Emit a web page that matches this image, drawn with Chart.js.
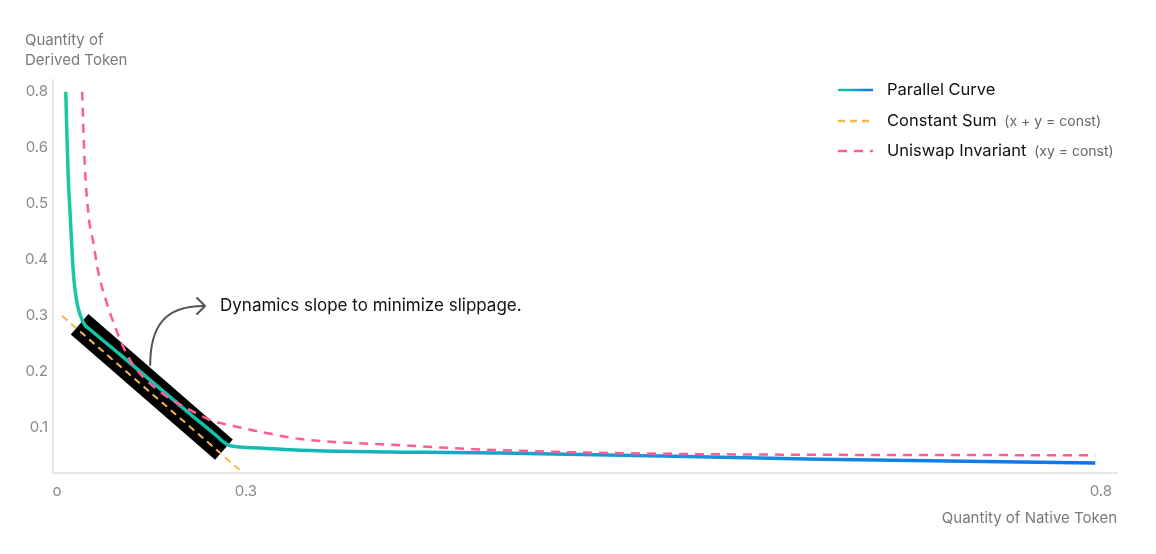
<!DOCTYPE html>
<html>
<head>
<meta charset="utf-8">
<script src="https://cdn.jsdelivr.net/npm/chart.js@4.4.1/dist/chart.umd.min.js"></script>
<style>
  html, body { margin: 0; padding: 0; background: #fff; }
  #wrap { width: 1156px; height: 554px; position: relative; }
</style>
</head>
<body>
<div id="wrap"><canvas id="curves"></canvas></div>
<script>
// axis is schematic: x runs 0..0.3 evenly, then squeezed up to the "0.8" tick
const xTickValues = [0, 0.3, 1.657];
const xTickLabels = ['o', '0.3', '0.8'];
const yTickValues = [0.1, 0.2, 0.3, 0.4, 0.5, 0.6, 0.7];
const yTickLabels = ['0.1', '0.2', '0.3', '0.4', '0.5', '0.6', '0.8'];

const parallelX = [0.014, 0.016, 0.018, 0.021, 0.023, 0.026, 0.031, 0.037, 0.044, 0.052, 0.100, 0.148, 0.211, 0.255, 0.264, 0.275, 0.322, 0.386, 0.703, 1.211, 1.648];
const parallelY = [0.695, 0.609, 0.538, 0.475, 0.430, 0.371, 0.323, 0.296, 0.279, 0.271, 0.226, 0.180, 0.120, 0.079, 0.070, 0.063, 0.059, 0.055, 0.050, 0.039, 0.032];

const uniswapX = [0.040, 0.044, 0.051, 0.057, 0.066, 0.079, 0.092, 0.105, 0.121, 0.142, 0.174, 0.211, 0.243, 0.285, 0.322, 0.386, 0.544, 0.703, 1.021, 1.648];
const uniswapY = [0.695, 0.568, 0.466, 0.430, 0.371, 0.318, 0.276, 0.240, 0.207, 0.180, 0.151, 0.127, 0.109, 0.097, 0.088, 0.075, 0.064, 0.055, 0.048, 0.046];

const constSumX = [0.008, 0.294];
const constSumY = [0.295, 0.016];

const bandX = [0.036, 0.265];
const bandY = [0.280, 0.056];

const arrowFrom = [0.148, 0.207];
const arrowTo = [0.235, 0.3125];
const noteText = 'Dynamics slope to minimize slippage.';

const legendNames = ['Parallel Curve', 'Constant Sum', 'Uniswap Invariant'];
const legendNotes = ['', '(x + y = const)', '(xy = const)'];

const FONT = 'Inter, "DejaVu Sans", sans-serif';
const pts = (xs, ys) => xs.map((x, i) => ({ x: x, y: ys[i] }));

function curveGradient(ctx, x0, x1) {
  const g = ctx.createLinearGradient(x0, 0, x1, 0);
  g.addColorStop(0, '#19c99e');
  g.addColorStop(0.15, '#12c0ac');
  g.addColorStop(0.3, '#15b2bd');
  g.addColorStop(0.5, '#189bd3');
  g.addColorStop(0.75, '#1484e3');
  g.addColorStop(1, '#0f72f0');
  return g;
}

const annotate = {
  id: 'annotate',
  afterDatasetsDraw(chart) {
    const { ctx, scales: { x, y } } = chart;
    const sx = x.getPixelForValue(arrowFrom[0]), sy = y.getPixelForValue(arrowFrom[1]);
    const ex = x.getPixelForValue(arrowTo[0]), ey = y.getPixelForValue(arrowTo[1]);
    ctx.save();
    ctx.strokeStyle = '#555';
    ctx.lineWidth = 2;
    ctx.lineCap = 'round';
    ctx.lineJoin = 'round';
    ctx.beginPath();
    ctx.moveTo(sx, sy);
    ctx.bezierCurveTo(sx, ey + 20, sx + 15, ey, ex - 2, ey);
    ctx.stroke();
    ctx.beginPath();
    ctx.moveTo(ex - 8, ey - 8);
    ctx.lineTo(ex, ey);
    ctx.lineTo(ex - 8, ey + 8);
    ctx.stroke();
    ctx.fillStyle = '#111';
    ctx.font = '17px ' + FONT;
    ctx.textBaseline = 'middle';
    ctx.fillText(noteText, ex + 15, ey);
    ctx.restore();
  },
  afterDraw(chart) {
    const ctx = chart.ctx;
    const x0 = 838, x1 = 873, tx = 887;
    const rows = [90, 121, 151];
    ctx.save();
    legendNames.forEach((name, i) => {
      const ds = chart.data.datasets[i];
      const yy = rows[i];
      ctx.beginPath();
      ctx.setLineDash(ds.borderDash || []);
      ctx.lineWidth = 2.5;
      ctx.strokeStyle = i === 0 ? curveGradient(ctx, x0, x1) : ds.borderColor;
      ctx.moveTo(x0, yy);
      ctx.lineTo(x1, yy);
      ctx.stroke();
      ctx.setLineDash([]);
      ctx.textBaseline = 'middle';
      ctx.font = '16.5px ' + FONT;
      ctx.fillStyle = '#111';
      ctx.fillText(name, tx, yy);
      if (legendNotes[i]) {
        const w = ctx.measureText(name + ' ').width;
        ctx.font = '14px ' + FONT;
        ctx.fillStyle = '#666';
        ctx.fillText(legendNotes[i], tx + w + 3, yy + 1);
      }
    });
    ctx.restore();
  }
};

new Chart(document.getElementById('curves'), {
  type: 'line',
  data: {
    datasets: [{
      label: 'Parallel Curve',
      data: pts(parallelX, parallelY),
      borderColor: (c) => {
        const a = c.chart.chartArea;
        return a ? curveGradient(c.chart.ctx, a.left, a.right) : '#14c2a6';
      },
      borderWidth: 3.5,
      cubicInterpolationMode: 'monotone',
      order: 1
    }, {
      label: 'Constant Sum',
      data: pts(constSumX, constSumY),
      borderColor: '#f4b947',
      borderWidth: 2,
      borderDash: [7, 5],
      order: 2
    }, {
      label: 'Uniswap Invariant',
      data: pts(uniswapX, uniswapY),
      borderColor: '#ff5b95',
      borderWidth: 2.5,
      borderDash: [9, 7],
      cubicInterpolationMode: 'monotone',
      order: 0
    }, {
      label: 'band',
      data: pts(bandX, bandY),
      borderColor: '#000',
      borderWidth: 27,
      borderCapStyle: 'butt',
      order: 10
    }]
  },
  options: {
    responsive: true,
    maintainAspectRatio: false,
    animation: false,
    layout: { padding: { left: 25, right: 39, top: 0, bottom: 0 } },
    elements: { point: { radius: 0 }, line: { fill: false } },
    plugins: {
      legend: { display: false },
      tooltip: { enabled: false },
      title: {
        display: true,
        align: 'start',
        text: ['Quantity of', 'Derived Token'],
        color: '#7a7a7a',
        font: { family: FONT, size: 15, weight: 'normal', lineHeight: 20 / 15 },
        padding: { top: 30, bottom: 10 }
      }
    },
    scales: {
      x: {
        type: 'linear',
        min: -0.0063,
        max: 1.6825,
        grid: { display: false, drawTicks: false },
        border: { display: true, color: '#e6e6e6', width: 2 },
        afterBuildTicks: (s) => { s.ticks = xTickValues.map(v => ({ value: v })); },
        afterFit: (s) => { s.height = 81; },
        ticks: {
          autoSkip: false,
          maxRotation: 0,
          padding: 9,
          color: '#8a8a8a',
          font: { family: FONT, size: 15 },
          callback: (v, i) => xTickLabels[i]
        },
        title: {
          display: true,
          text: 'Quantity of Native Token',
          align: 'end',
          color: '#7a7a7a',
          font: { family: FONT, size: 15 },
          padding: { top: 0, bottom: 27 }
        }
      },
      y: {
        type: 'linear',
        min: 0.0143,
        max: 0.716,
        grid: { display: false, drawTicks: false },
        border: { display: true, color: '#e6e6e6', width: 2 },
        afterBuildTicks: (s) => { s.ticks = yTickValues.map(v => ({ value: v })); },
        afterFit: (s) => { s.width = 28; },
        ticks: {
          autoSkip: false,
          padding: 5,
          labelOffset: 2.5,
          color: '#8a8a8a',
          font: { family: FONT, size: 15 },
          callback: (v, i) => yTickLabels[i]
        }
      }
    }
  },
  plugins: [annotate]
});
</script>
</body>
</html>
